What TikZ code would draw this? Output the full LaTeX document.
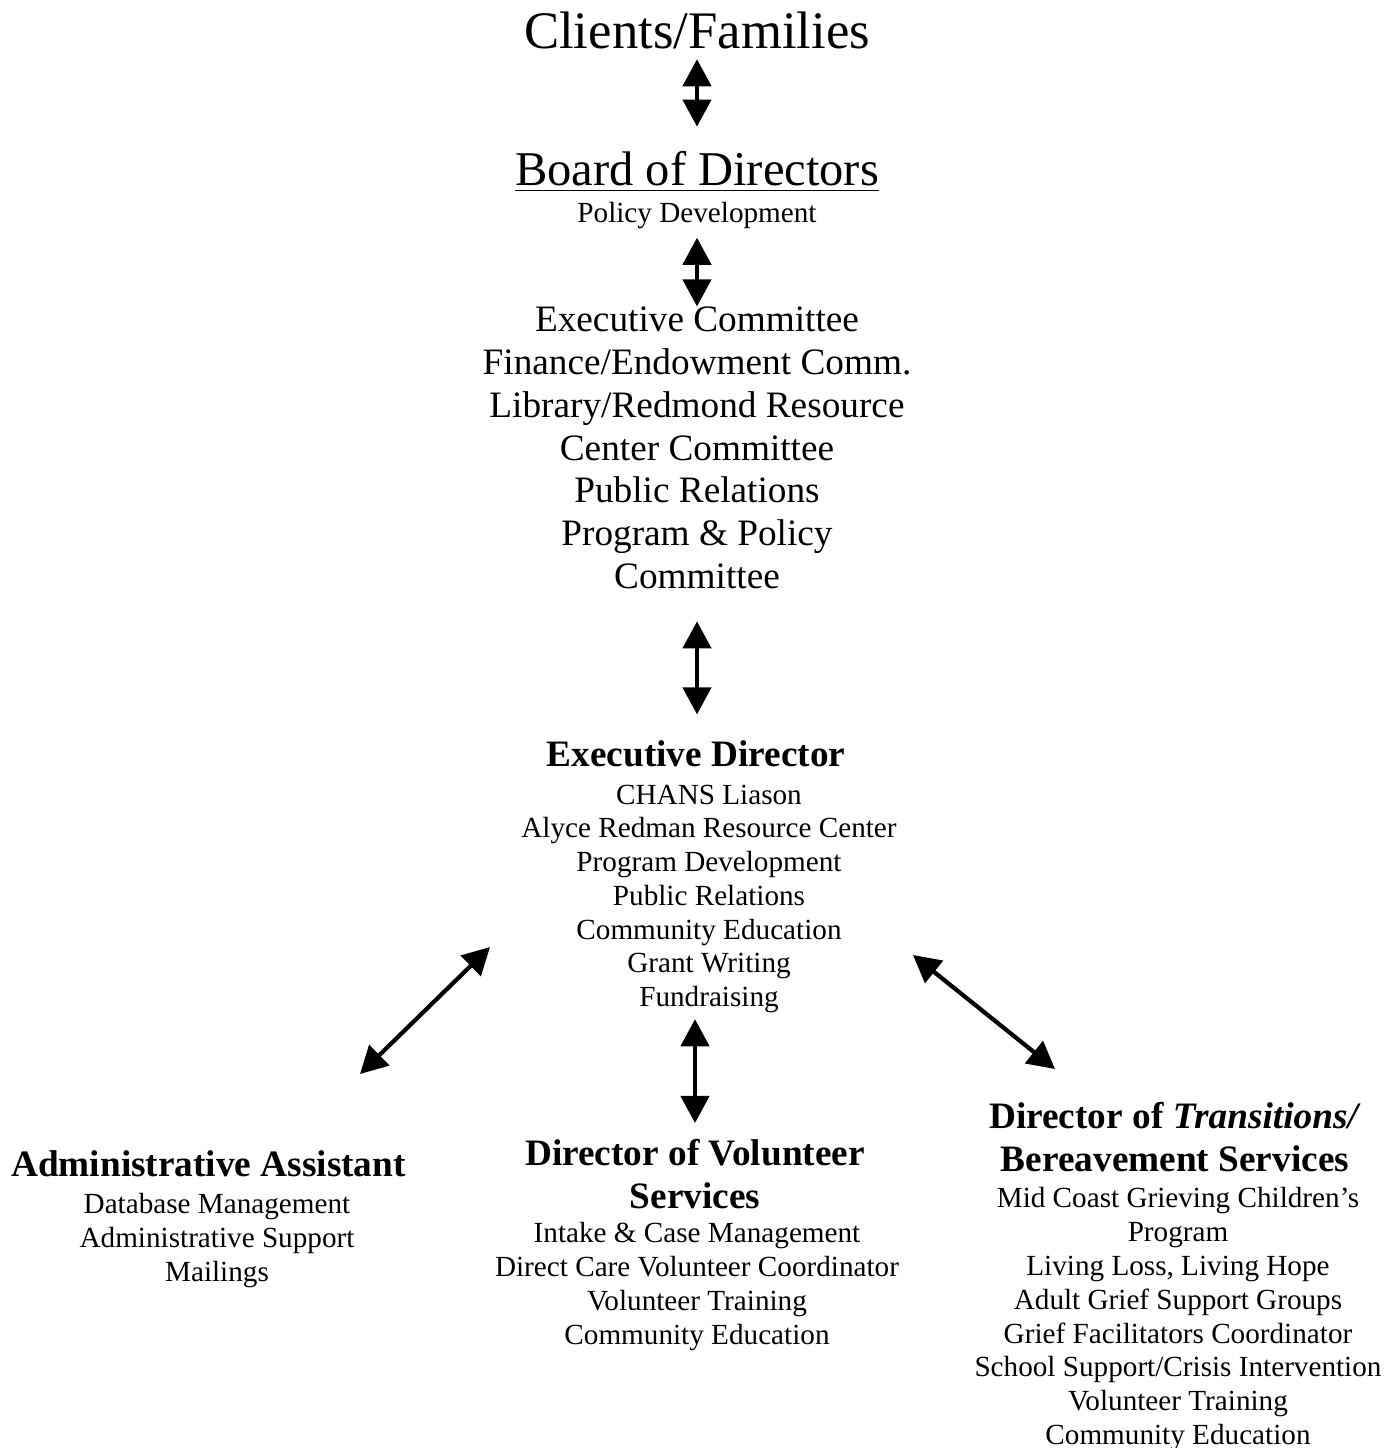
\documentclass[tikz,border=0pt]{standalone}
\usepackage{fontspec}
\setmainfont{Liberation Serif}
\usetikzlibrary{arrows.meta}
\begin{document}
\begin{tikzpicture}[x=0.01cm, y=-0.01cm,
		link/.style={{Triangle[width=8pt,length=7.7pt]}-{Triangle[width=8pt,length=7.7pt]}, line width=1.2pt},
		big/.style={font=\fontsize{14.4}{17}\selectfont, inner sep=0pt},
		mid/.style={font=\fontsize{10.6}{12.15}\selectfont, inner sep=0pt, align=center},
		small/.style={font=\fontsize{8.3}{9.6}\selectfont, inner sep=0pt, align=center},
		head/.style={font=\bfseries\fontsize{10.6}{12.15}\selectfont, inner sep=0pt, align=center}]
			\useasboundingbox (0,0) rectangle (1398,1448);
			
			\node[big, font=\fontsize{15}{17}\selectfont, anchor=base] (clients) at (697,48) {Clients/Families};
			\node[big, font=\fontsize{13.8}{17}\selectfont, anchor=base] (board) at (697,185) {\underline{Board of Directors}};
			\node[small, anchor=base] (policy) at (697,222) {Policy Development};
			\node[mid, anchor=north] (committees) at (697,306.5) {Executive Committee\\ Finance/Endowment Comm.\\ Library/Redmond Resource\\ Center Committee\\ Public Relations\\ Program \& Policy\\ Committee};
			
			\node[head, anchor=base] (ed) at (696,766) {Executive Director};
			\node[small, anchor=north] (edtasks) at (709,784) {CHANS Liason\\ Alyce Redman Resource Center\\ Program Development\\ Public Relations\\ Community Education\\ Grant Writing\\ Fundraising};
			
			\node[head, anchor=base] (admin) at (208.5,1176) {Administrative Assistant};
			\node[small, anchor=north] (admintasks) at (217,1193) {Database Management\\ Administrative Support\\ Mailings};
			
			\node[head, anchor=north] (vol) at (695,1138.5) {Director of Volunteer\\ Services};
			\node[small, anchor=north] (voltasks) at (697,1222) {Intake \& Case Management\\ Direct Care Volunteer Coordinator\\ Volunteer Training\\ Community Education};
			
			\node[head, anchor=north] (trans) at (1175,1101.5) {Director of \textit{Transitions/}\\ Bereavement Services};
			\node[small, anchor=north] (transtasks) at (1178,1187) {Mid Coast Grieving Children’s\\ Program\\ Living Loss, Living Hope\\ Adult Grief Support Groups\\ Grief Facilitators Coordinator\\ School Support/Crisis Intervention\\ Volunteer Training\\ Community Education};
			
			% arrows
			\coordinate (ed-left) at (490,947);
			\coordinate (admin-top) at (360,1074);
			\coordinate (ed-right) at (913,955);
			\coordinate (trans-top) at (1055,1069);
			\draw [link, shorten <=0.1cm, shorten >=0.235cm] (clients.south) -- (board.north);
			\draw [link, shorten <=0.087cm] (policy.south) -- (committees.north);
			\draw [link, shorten <=0.32cm, shorten >=0.25cm] (committees.south) -- (ed.north -| committees.south);
			\draw [link, shorten <=0.056cm, shorten >=0.155cm] (edtasks.south -| vol.north) -- (vol.north);
			\draw [link] (ed-left) -- (admin-top);
			\draw [link] (ed-right) -- (trans-top);
			
		\end{tikzpicture}
\end{document}
